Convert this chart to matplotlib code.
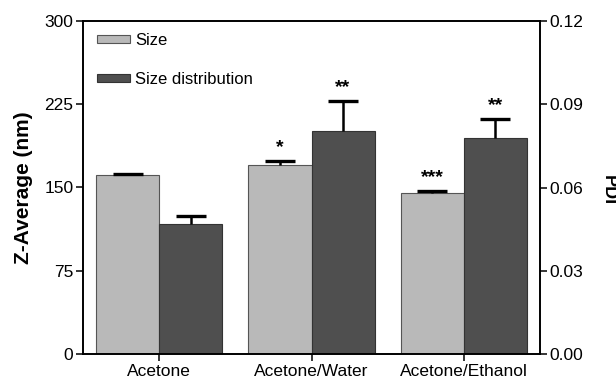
import matplotlib
matplotlib.use("Agg")
import matplotlib.pyplot as plt
import numpy as np
from matplotlib.patches import Patch
from matplotlib.ticker import FormatStrFormatter

plt.rcParams['font.family'] = ['Liberation Sans', 'DejaVu Sans']

categories = ["Acetone", "Acetone/Water", "Acetone/Ethanol"]
size_vals = [161, 170, 145]
size_err = [1.5, 4, 2]
dist_vals = [117, 201, 195]
dist_err = [7, 27, 17]
size_marks = ["", "*", "***"]
dist_marks = ["", "**", "**"]
left_ticks = [0, 75, 150, 225, 300]
right_ticks = [0.00, 0.03, 0.06, 0.09, 0.12]

light = "#b9b9b9"
dark = "#4f4f4f"

fig = plt.figure(figsize=(6.16, 3.78), dpi=100)
ax = fig.add_axes([83/616, 24/378, (540-83)/616, (354-21)/378])

x = np.arange(len(categories))
w = 0.414
ax.bar(x - w/2, size_vals, w, color=light, edgecolor="#555555", linewidth=0.8, zorder=2)
ax.bar(x + w/2, dist_vals, w, color=dark, edgecolor="#333333", linewidth=0.8, zorder=2)
for xs, vals, errs in [(x - w/2, size_vals, size_err), (x + w/2, dist_vals, dist_err)]:
    eb = ax.errorbar(xs, vals, yerr=[np.zeros(3), errs], fmt='none', ecolor='black',
                     elinewidth=1.8, capsize=11, capthick=2.4, zorder=3)
    eb[1][0].set_visible(False)

for i in range(3):
    if size_marks[i]:
        ax.text(x[i] - w/2, size_vals[i] + size_err[i] + 8, size_marks[i], ha='center', va='baseline',
                fontsize=14, fontweight='bold')
    if dist_marks[i]:
        ax.text(x[i] + w/2, dist_vals[i] + dist_err[i] + 8, dist_marks[i], ha='center', va='baseline',
                fontsize=14, fontweight='bold')

ax.set_xlim(-0.5, 2.5)
ax.set_ylim(0, 300)
ax.set_yticks(left_ticks)
ax.set_xticks(x)
ax.set_xticklabels(categories)
ax.tick_params(axis='both', labelsize=12.5, length=5, width=1.1, direction='out', pad=2)
for s in ax.spines.values():
    s.set_linewidth(1.2)
ax.set_ylabel("Z-Average (nm)", fontsize=15, fontweight='bold', labelpad=8)

ax2 = ax.twinx()
ax2.set_ylim(0, 0.12)
ax2.set_yticks(right_ticks)
ax2.yaxis.set_major_formatter(FormatStrFormatter('%.2f'))
ax2.tick_params(axis='y', labelsize=12.5, length=5, width=1.1, direction='out', pad=2)
for s in ax2.spines.values():
    s.set_linewidth(1.2)
fig.text(608/616, 1 - 190/378, "PDI", rotation=270, ha='center', va='center',
         fontsize=13, fontweight='bold')

handles = [Patch(facecolor=light, edgecolor="#555555", linewidth=0.8, label="Size"),
           Patch(facecolor=dark, edgecolor="#333333", linewidth=0.8, label="Size distribution")]
ax.legend(handles=handles, loc='upper left', bbox_to_anchor=(0.03, 0.964), frameon=False,
          fontsize=12, handlelength=2.0, handleheight=0.35, handletextpad=0.3,
          labelspacing=1.45, borderpad=0, borderaxespad=0)

fig.savefig("out.png", dpi=100)
